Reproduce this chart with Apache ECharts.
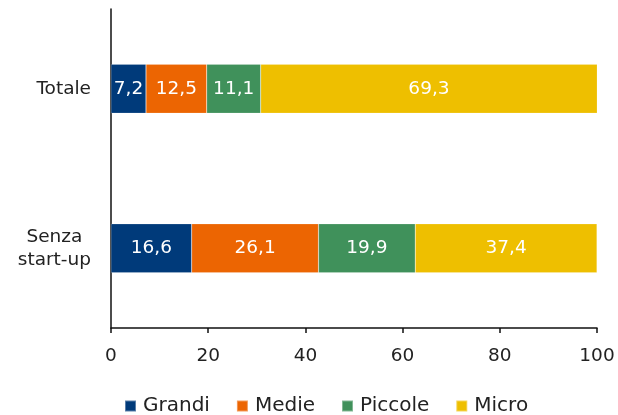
<!DOCTYPE html>
<html>
<head>
<meta charset="utf-8">
<script src="https://cdn.jsdelivr.net/npm/echarts@6/dist/echarts.min.js"></script>
<style>
  html, body { margin: 0; padding: 0; background: #fff; }
  #chart { width: 618px; height: 415px; }
</style>
</head>
<body>
<div id="chart"></div>
<script>
// Categories (top to bottom) and share of each company size class (%)
const categories = ['Totale', 'Senza\nstart-up'];
const seriesNames = ['Grandi', 'Medie', 'Piccole', 'Micro'];
const grandi  = [7.2, 16.6];
const medie   = [12.5, 26.1];
const piccole = [11.1, 19.9];
const micro   = [69.3, 37.4];
const xTicks  = [0, 20, 40, 60, 80, 100];

const colors = ['#003A7A', '#EC6502', '#40915B', '#EEBF00'];
const values = [grandi, medie, piccole, micro];
const FONT = 'DejaVu Sans';
const FS = 18.5;

const chart = echarts.init(document.getElementById('chart'));
chart.setOption({
  animation: false,
  textStyle: { fontFamily: FONT },
  grid: { left: 111, right: 21, top: 9, bottom: 87, containLabel: false },
  legend: {
    top: 391,
    left: 119,
    itemWidth: 11,
    itemHeight: 11,
    itemGap: 26,
    icon: 'rect',
    textStyle: { fontFamily: FONT, fontSize: 20, color: '#222', padding: [0, 0, 0, 2] },
    data: seriesNames
  },
  xAxis: {
    type: 'value',
    min: xTicks[0],
    max: xTicks[xTicks.length - 1],
    interval: 20,
    splitLine: { show: false },
    axisLine: { show: true, lineStyle: { color: '#111', width: 1.5 } },
    axisTick: { show: true, length: 5, lineStyle: { color: '#111', width: 1.5 } },
    axisLabel: { fontFamily: FONT, fontSize: FS, color: '#222', margin: 19 }
  },
  yAxis: {
    type: 'category',
    inverse: true,
    data: categories,
    axisLine: { show: true, lineStyle: { color: '#111', width: 1.5 } },
    axisTick: { show: false },
    axisLabel: {
      fontFamily: FONT,
      fontSize: FS,
      color: '#222',
      margin: 20,
      align: 'right',
      lineHeight: 23,
      formatter: v => v.split('\n').map(l => '{c|' + l + '}').join('\n'),
      rich: { c: { align: 'center', fontFamily: FONT, fontSize: FS, color: '#222', lineHeight: 23 } }
    }
  },
  series: seriesNames.map((name, i) => ({
    name,
    type: 'bar',
    stack: 'total',
    barWidth: 49,
    itemStyle: { color: colors[i], borderColor: 'rgba(255,255,255,0.35)', borderWidth: 0.5 },
    label: {
      show: true,
      position: 'inside',
      color: '#fff',
      fontFamily: FONT,
      fontSize: FS,
      formatter: p => String(p.value).replace('.', ',')
    },
    data: values[i]
  }))
});
</script>
</body>
</html>
